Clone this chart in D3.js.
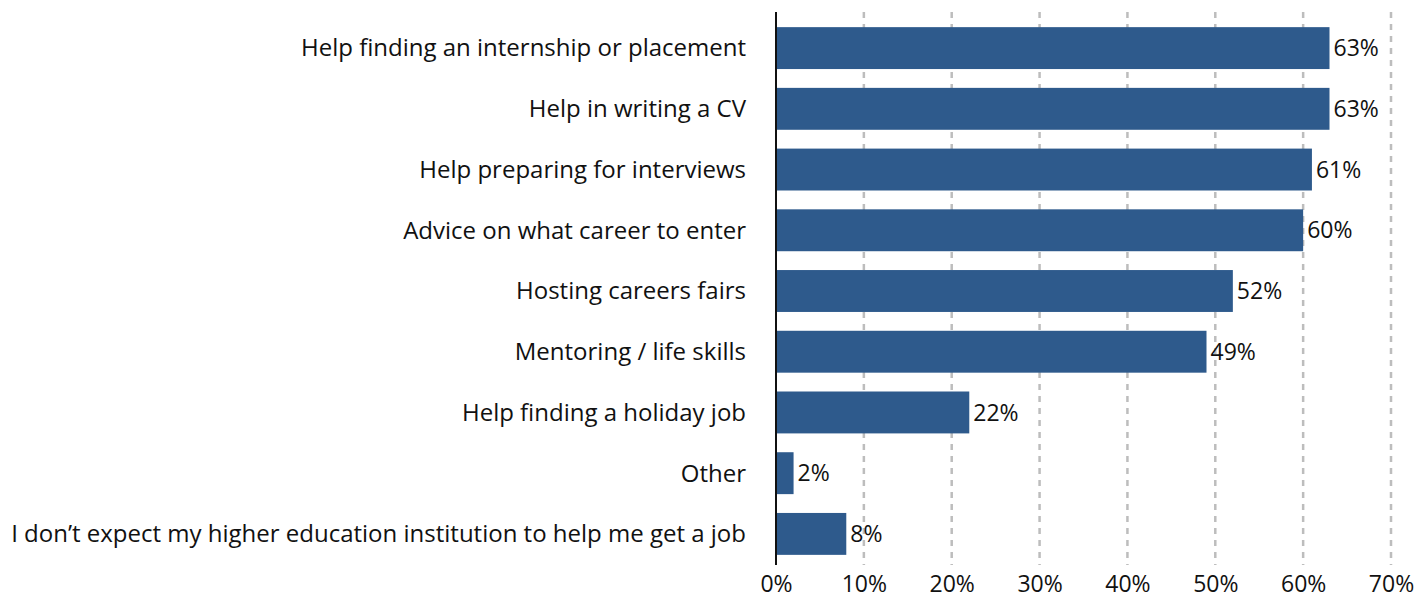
<!DOCTYPE html>
<html>
<head>
<meta charset="utf-8">
<script src="https://cdn.jsdelivr.net/npm/d3@7"></script>
<style>
  html, body { margin: 0; padding: 0; background: #fff; }
  svg { display: block; font-family: "Open Sans", "Noto Sans", sans-serif; }
</style>
</head>
<body>
<svg id="chart" width="1424" height="602"></svg>
<script>
// Survey answers: what help students expect from their institution
const categories = [
  "Help finding an internship or placement",
  "Help in writing a CV",
  "Help preparing for interviews",
  "Advice on what career to enter",
  "Hosting careers fairs",
  "Mentoring / life skills",
  "Help finding a holiday job",
  "Other",
  "I don\u2019t expect my higher education institution to help me get a job"
];
const values = [63, 63, 61, 60, 52, 49, 22, 2, 8];
const tickValues = [0, 10, 20, 30, 40, 50, 60, 70];

const svg = d3.select("#chart");
const margin = { left: 776, right: 33, top: 12, bottom: 37 };
const W = 1424, H = 602;

const x = d3.scaleLinear().domain([0, 70]).range([margin.left, W - margin.right]);
const y = d3.scaleBand().domain(categories)
  .range([margin.top + 3, H - margin.bottom + 2])
  .paddingInner(0.31).paddingOuter(0.2);

// dashed vertical gridlines
svg.append("g").selectAll("line")
  .data(tickValues.filter(d => d > 0))
  .join("line")
  .attr("x1", d => x(d)).attr("x2", d => x(d))
  .attr("y1", margin.top).attr("y2", H - margin.bottom)
  .attr("stroke", "#bdbdbd").attr("stroke-width", 2.5)
  .attr("stroke-dasharray", "6,6");

// bars
svg.append("g").selectAll("rect")
  .data(values)
  .join("rect")
  .attr("x", x(0))
  .attr("y", (d, i) => y(categories[i]))
  .attr("width", d => x(d) - x(0))
  .attr("height", y.bandwidth())
  .attr("fill", "#2E5A8C");

// value labels
svg.append("g").selectAll("text")
  .data(values)
  .join("text")
  .attr("x", d => x(d) + 4)
  .attr("y", (d, i) => y(categories[i]) + y.bandwidth() / 2)
  .attr("dy", "0.35em")
  .attr("font-size", 23)
  .attr("fill", "#111")
  .text(d => d + "%");

// category labels
svg.append("g").selectAll("text")
  .data(categories)
  .join("text")
  .attr("x", margin.left - 30)
  .attr("y", d => y(d) + y.bandwidth() / 2)
  .attr("dy", "0.35em")
  .attr("text-anchor", "end")
  .attr("font-size", 24)
  .attr("fill", "#111")
  .text(d => d);

// x axis tick labels
const xAxis = d3.axisBottom(x).tickValues(tickValues).tickFormat(d => d + "%").tickSize(0).tickPadding(0);
const gx = svg.append("g").attr("transform", `translate(0,${H - 18})`).call(xAxis);
gx.select(".domain").remove();
gx.selectAll("text").attr("font-size", 23).attr("fill", "#111")
  .attr("font-family", "\"Open Sans\", \"Noto Sans\", sans-serif")
  .attr("dy", "0.35em").attr("y", 0);

// vertical baseline
svg.append("line")
  .attr("x1", x(0)).attr("x2", x(0))
  .attr("y1", margin.top).attr("y2", H - margin.bottom)
  .attr("stroke", "#111").attr("stroke-width", 2);
</script>
</body>
</html>
